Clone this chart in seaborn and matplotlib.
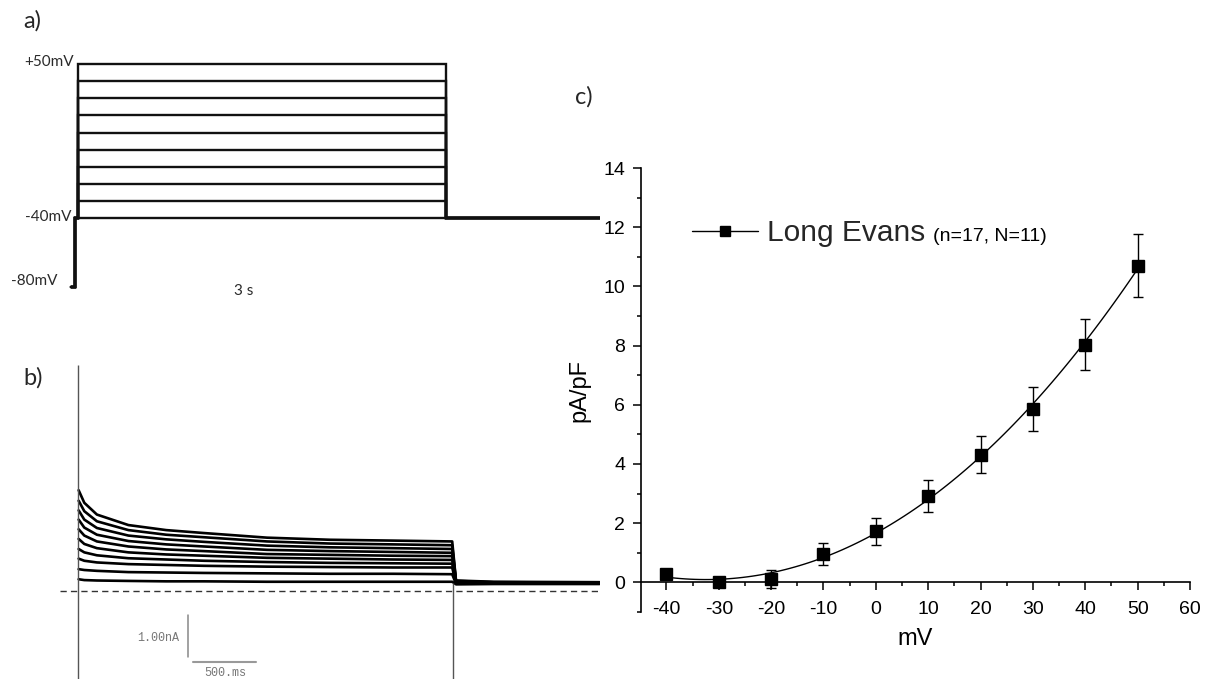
import numpy as np
import pandas as pd
import matplotlib
matplotlib.use("Agg")
import matplotlib.pyplot as plt
import seaborn as sns
from matplotlib.lines import Line2D
from matplotlib.ticker import MultipleLocator, FixedLocator

# ---------------- data ----------------
# panel a: voltage protocol
step_mv = [-40, -30, -20, -10, 0, 10, 20, 30, 40, 50]
hold_mv = -80
tail_mv = -40
step_dur_s = 3.0
pre_start_s = -0.057
pre_jump_s = -0.024
protocol_end_s = 4.25

# panel b: current traces (nA), one row per sweep (-40 ... +50 mV)
trace_t = [0.005, 0.05, 0.15, 0.4, 0.7, 1.0, 1.5, 2.0, 2.5, 2.97]
sweep_currents = [
    [0.28, 0.26, 0.25, 0.24, 0.23, 0.23, 0.22, 0.22, 0.22, 0.22],
    [0.52, 0.50, 0.48, 0.45, 0.44, 0.43, 0.42, 0.41, 0.41, 0.40],
    [0.77, 0.72, 0.68, 0.64, 0.62, 0.60, 0.58, 0.57, 0.56, 0.56],
    [1.00, 0.92, 0.85, 0.78, 0.75, 0.72, 0.69, 0.67, 0.66, 0.65],
    [1.24, 1.12, 1.02, 0.92, 0.87, 0.84, 0.79, 0.77, 0.75, 0.74],
    [1.47, 1.32, 1.18, 1.06, 0.99, 0.95, 0.88, 0.86, 0.84, 0.83],
    [1.70, 1.51, 1.34, 1.19, 1.11, 1.06, 0.98, 0.95, 0.93, 0.91],
    [1.92, 1.70, 1.50, 1.32, 1.23, 1.17, 1.08, 1.04, 1.02, 1.00],
    [2.15, 1.90, 1.66, 1.45, 1.34, 1.28, 1.18, 1.13, 1.11, 1.09],
    [2.40, 2.10, 1.82, 1.57, 1.45, 1.38, 1.27, 1.22, 1.20, 1.18],
]
tail_t = [3.0, 3.3, 4.14]
tail_currents = [
    [0.16, 0.17, 0.17], [0.17, 0.17, 0.17], [0.18, 0.18, 0.18],
    [0.19, 0.18, 0.18], [0.20, 0.19, 0.18], [0.21, 0.19, 0.19],
    [0.22, 0.20, 0.19], [0.23, 0.20, 0.20], [0.24, 0.21, 0.20],
    [0.25, 0.22, 0.21],
]
transient_t = [0.0, 2.98]
transient_top = [5.38, 0.20]
transient_bottom = [-2.1, -2.1]

# panel c: I-V relation
mv = [-40, -30, -20, -10, 0, 10, 20, 30, 40, 50]
density = [0.28, 0.02, 0.12, 0.95, 1.72, 2.93, 4.32, 5.86, 8.03, 10.70]
sem = [0.05, 0.10, 0.30, 0.37, 0.44, 0.54, 0.62, 0.75, 0.86, 1.07]
legend_label = "Long Evans"
legend_note = "(n=17, N=11)"

# ---------------- style ----------------
sns.set_theme(style="ticks")
plt.rcParams["font.family"] = ["Liberation Sans", "DejaVu Sans"]
plt.rcParams["lines.scale_dashes"] = False
plt.rcParams["axes.unicode_minus"] = False

W, H = 1207, 679
fig = plt.figure(figsize=(W / 100, H / 100), dpi=100)
fig.patch.set_facecolor("white")


def px_axes(l, t, r, b):
    return fig.add_axes([l / W, 1 - b / H, (r - l) / W, (b - t) / H])


label_font = ["Lato", "DejaVu Sans"]

# ---------------- panel a ----------------
axa = px_axes(0, 30, 600, 310)
axa.set_xlim(-0.636, 4.254)
axa.set_ylim(-93.4, 69.8)
axa.axis("off")
for v in step_mv:
    ts = [pre_start_s, pre_jump_s, pre_jump_s, 0, 0, step_dur_s, step_dur_s, protocol_end_s]
    vs = [hold_mv, hold_mv, tail_mv, tail_mv, v, v, tail_mv, tail_mv]
    axa.plot(ts, vs, color="#111111", lw=1.7, solid_joinstyle="miter")
txt_kw = dict(family=label_font, fontsize=11, color="#2a2a2a", va="center")
axa.text(-0.033, 51.2, "+50mV", ha="right", **txt_kw)
axa.text(-0.057, -39.2, "-40mV", ha="right", **txt_kw)
axa.text(-0.171, -76.5, "-80mV", ha="right", **txt_kw)
axa.text(1.353, -82.4, "3 s", ha="center", **txt_kw)

# ---------------- panel b ----------------
axb = px_axes(40, 340, 600, 679)
axb.set_xlim(-0.3016, 4.143)
axb.set_ylim(-2.095, 5.976)
axb.axis("off")
rows = []
for i, (cur, tail) in enumerate(zip(sweep_currents, tail_currents)):
    for t, c in zip(trace_t + tail_t, cur + tail):
        rows.append({"t": t, "I": c, "sweep": i})
df_tr = pd.DataFrame(rows)
sns.lineplot(data=df_tr, x="t", y="I", units="sweep", estimator=None,
             color="black", lw=1.9, sort=False, legend=False, ax=axb)
axb.vlines(transient_t, transient_bottom, transient_top, color="#555555", lw=1.0)
axb.axhline(0, xmin=(60 - 40) / 560, xmax=1, color="#333333", lw=1.0,
            ls=(0, (4.5, 3)))
# scale bar
axb.plot([0.873, 0.873], [-0.57, -1.57], color="#888888", lw=1.1)
axb.plot([0.913, 1.413], [-1.69, -1.69], color="#999999", lw=1.5)
mono = dict(family=["Liberation Mono", "DejaVu Sans Mono"], fontsize=8.5, color="#777777")
axb.text(0.80, -1.12, "1.00nA", ha="right", va="center", **mono)
axb.text(1.167, -1.95, "500.ms", ha="center", va="center", **mono)

# ---------------- panel c ----------------
axc = px_axes(641, 168, 1190, 612)
sns.regplot(x=mv, y=density, order=3, ci=None, scatter=False, truncate=True,
            line_kws=dict(color="black", lw=1.0), ax=axc)
axc.errorbar(mv, density, yerr=sem, fmt="s", color="black", ms=8.5,
             capsize=3.6, elinewidth=1.0, capthick=1.0, zorder=5)
axc.set_xlim(-44.85, 60)
axc.set_ylim(-1.0, 14)
axc.spines["bottom"].set_position(("data", 0))
axc.spines["top"].set_visible(False)
axc.spines["right"].set_visible(False)
for s in ("left", "bottom"):
    axc.spines[s].set_linewidth(1.2)
    axc.spines[s].set_color("black")
axc.set_xticks(range(-40, 61, 10))
axc.xaxis.set_minor_locator(MultipleLocator(5))
axc.set_yticks(range(0, 15, 2))
axc.yaxis.set_minor_locator(FixedLocator([-1, 1, 3, 5, 7, 9, 11, 13]))
axc.tick_params(which="major", direction="out", length=5.5, width=1.1,
                labelsize=14, color="black", labelcolor="black")
axc.tick_params(which="minor", direction="out", length=3, width=1.1, color="black")
axc.tick_params(axis="x", which="major", pad=8)
axc.tick_params(axis="y", which="major", pad=6)
axc.set_xlabel("mV", fontsize=17, labelpad=7, color="black")
axc.set_ylabel("pA/pF", fontsize=17, labelpad=9, color="black")
axc.set_facecolor("none")

handle = Line2D([], [], color="black", lw=1.0, marker="s", ms=7)
leg = axc.legend([handle], [legend_label], loc="upper left",
                 bbox_to_anchor=(692 / W, 1 - 219 / H),
                 bbox_transform=fig.transFigure, frameon=False, fontsize=21.5,
                 handlelength=2.2, handletextpad=0.3, borderpad=0,
                 borderaxespad=0)

# panel labels
fig.text(23 / W, 1 - 21 / H, "a)", family=label_font, fontsize=17, va="center")
fig.text(23 / W, 1 - 378 / H, "b)", family=label_font, fontsize=17, va="center")
fig.text(575 / W, 1 - 97 / H, "c)", family=label_font, fontsize=17, va="center")

# small note placed right after the legend label, sharing its baseline
fig.canvas.draw()
renderer = fig.canvas.get_renderer()
ltxt = leg.get_texts()[0]
bb = ltxt.get_window_extent(renderer)
_, _, d_big = renderer.get_text_width_height_descent(
    legend_label, ltxt.get_fontproperties(), ismath=False)
fig.text((bb.x1 + 8) / W, (bb.y0 + d_big) / H, legend_note, fontsize=14,
         ha="left", va="baseline", color="black")

fig.savefig("out.png", dpi=100, facecolor="white")
